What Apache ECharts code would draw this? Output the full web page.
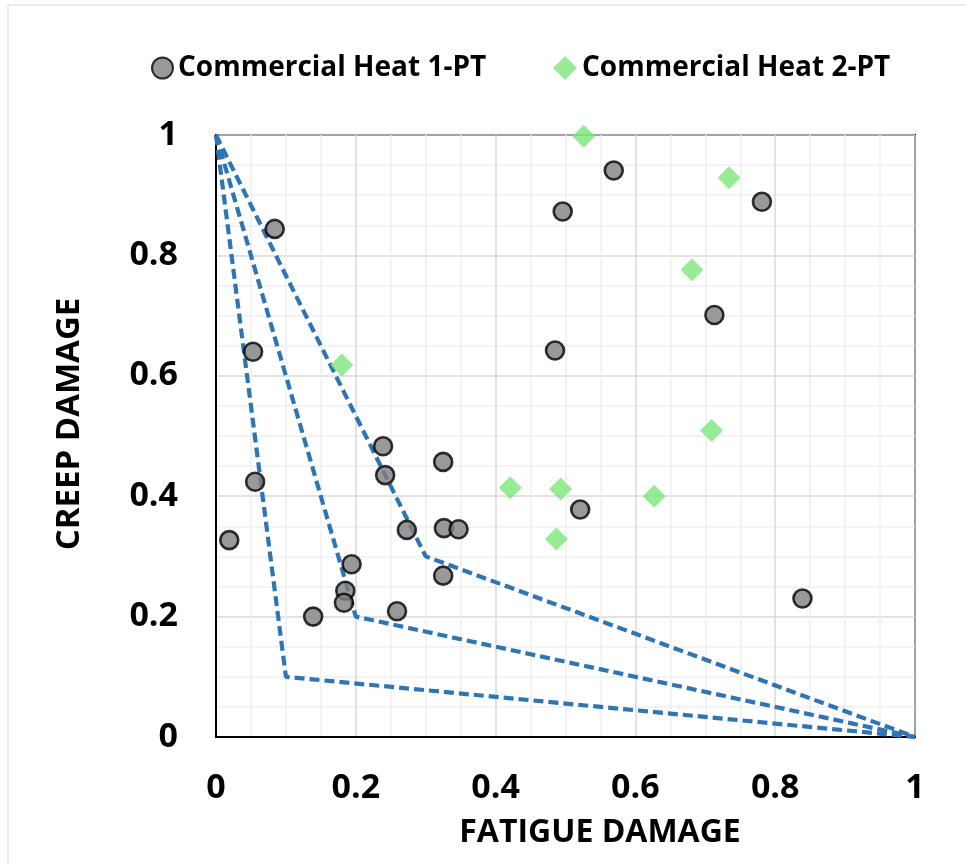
<!DOCTYPE html>
<html>
<head>
<meta charset="utf-8">
<script src="https://cdn.jsdelivr.net/npm/echarts@6/dist/echarts.min.js"></script>
<style>
html,body{margin:0;padding:0;background:#fff;}
#chart{width:966px;height:864px;}
</style>
</head>
<body>
<div id="chart"></div>
<script>
const seriesNames = ['Commercial Heat 1-PT', 'Commercial Heat 2-PT'];
const heat1 = [
  [0.084,0.844],[0.053,0.640],[0.056,0.424],[0.019,0.327],[0.239,0.483],[0.242,0.435],
  [0.325,0.457],[0.273,0.344],[0.326,0.347],[0.347,0.345],[0.194,0.287],[0.325,0.268],
  [0.185,0.243],[0.183,0.223],[0.139,0.200],[0.259,0.209],[0.485,0.642],[0.496,0.873],
  [0.569,0.941],[0.781,0.889],[0.713,0.701],[0.521,0.378],[0.839,0.230]
];
const heat2 = [
  [0.526,0.998],[0.734,0.929],[0.681,0.776],[0.180,0.618],[0.709,0.509],
  [0.421,0.414],[0.493,0.412],[0.627,0.400],[0.487,0.329]
];
const envelope1 = [[0,1],[0.1,0.1],[1,0]];
const envelope2 = [[0,1],[0.2,0.2],[1,0]];
const envelope3 = [[0,1],[0.3,0.3],[1,0]];
const xTitle = 'FATIGUE DAMAGE';
const yTitle = 'CREEP DAMAGE';

const FONT = '"Open Sans"';
const chart = echarts.init(document.getElementById('chart'), null, {renderer:'canvas'});
const lineSeries = (d) => ({
  type:'line', data:d, symbol:'none', silent:true, z:1,
  lineStyle:{color:'#2e75b6', width:4.2, type:[10,5], cap:'butt'}
});
const axisCommon = {
  min:0, max:1, interval:0.2,
  axisLine:{show:true, lineStyle:{color:'#000', width:2}},
  axisTick:{show:false},
  minorTick:{show:false, splitNumber:4},
  splitLine:{show:true, lineStyle:{color:'#d9d9d9', width:1.5}},
  minorSplitLine:{show:true, lineStyle:{color:'#f0f0f0', width:1.5}},
  axisLabel:{color:'#000', fontFamily:FONT, fontWeight:'bold', fontSize:34,
    formatter:(v)=> (Math.round(v*10)/10).toString()}
};
const legendText = {color:'#000', fontFamily:FONT, fontWeight:'bold', fontSize:28};
chart.setOption({
  animation:false,
  backgroundColor:'#fff',
  graphic:[
    {type:'rect', shape:{x:8,y:5,width:1000,height:900},
      style:{fill:'none', stroke:'#d9d9d9', lineWidth:1}, silent:true},
    {type:'text', x:600, y:833, silent:true,
      style:{text:xTitle, fill:'#000', font:'bold 32px "Open Sans"', textAlign:'center', textVerticalAlign:'middle'}},
    {type:'text', x:70, y:424, rotation:Math.PI/2, silent:true,
      style:{text:yTitle, fill:'#000', font:'bold 33px "Open Sans"', textAlign:'center', textVerticalAlign:'middle'}}
  ],
  legend:[
    {data:[seriesNames[0]], top:54, left:151, padding:0, itemWidth:21, itemHeight:21, itemGap:0, textStyle:legendText},
    {data:[seriesNames[1]], top:54, left:553, padding:0, itemWidth:24, itemHeight:24, itemGap:0, textStyle:legendText}
  ],
  grid:{left:216, top:135, width:699, height:602, show:true, borderColor:'#000', borderWidth:2, containLabel:false},
  xAxis:Object.assign({}, axisCommon, {
    type:'value',
    axisLabel:Object.assign({}, axisCommon.axisLabel, {margin:34})
  }),
  yAxis:Object.assign({}, axisCommon, {
    type:'value',
    axisLabel:Object.assign({}, axisCommon.axisLabel, {margin:38})
  }),
  series:[
    lineSeries(envelope1), lineSeries(envelope2), lineSeries(envelope3),
    {name:seriesNames[0], type:'scatter', data:heat1, symbol:'circle', symbolSize:18, z:3,
      itemStyle:{color:'#7f7f7f', borderColor:'#000', borderWidth:2.6}},
    {name:seriesNames[1], type:'scatter', data:heat2, symbol:'diamond', symbolSize:[23,23], z:4,
      itemStyle:{color:'#7ee67a'}}
  ]
});
</script>
</body>
</html>
